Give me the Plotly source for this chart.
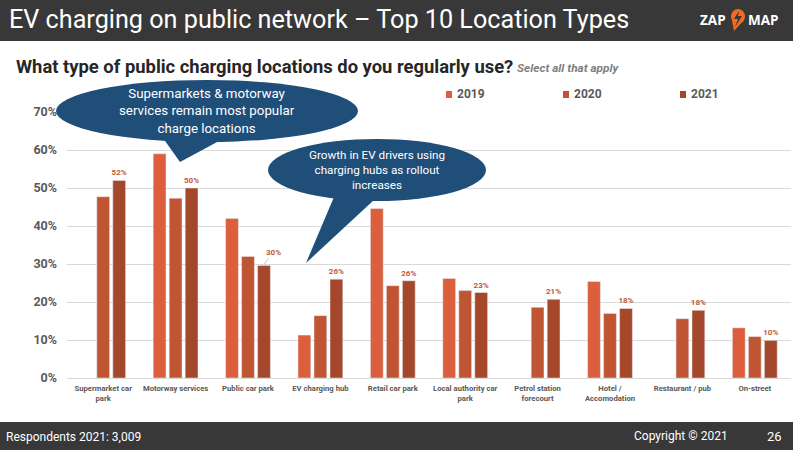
import plotly.graph_objects as go

W, H = 793, 450

categories = ["Supermarket car<br>park", "Motorway services", "Public car park", "EV charging hub",
              "Retail car park", "Local authority car<br>park", "Petrol station<br>forecourt",
              "Hotel /<br>Accomodation", "Restaurant / pub", "On-street"]
years = ["2019", "2020", "2021"]
values_2019 = [None, 59, 42, 11.3, 44.6, 26.2, None, 25.4, None, 13.2]
values_2020 = [47.7, 47.3, 32, 16.4, 24.3, 23, 18.6, 17, 15.6, 10.9]
values_2021 = [52, 50, 29.6, 26, 25.6, 22.5, 20.7, 18.3, 17.8, 9.9]
labels_2021 = ["52%", "50%", "", "26%", "26%", "23%", "21%", "18%", "18%", "10%"]
colors = ["#DB5F3D", "#C05533", "#A5472B"]
y_ticks = [0, 10, 20, 30, 40, 50, 60, 70]
y_tick_labels = ["0%", "10%", "20%", "30%", "40%", "50%", "60%", "70%"]


def px(x):
    return x / W


def py(y):
    return 1 - y / H


def poly(points):
    return "M " + " L ".join(f"{px(a):.4f},{py(b):.4f}" for a, b in points) + " Z"


def rect(x0, y0, x1, y1, color):
    return dict(type="rect", xref="paper", yref="paper", x0=px(x0), x1=px(x1), y0=py(y0), y1=py(y1),
                fillcolor=color, line_width=0, layer="above")


def oval(x0, y0, x1, y1, color):
    return dict(type="circle", xref="paper", yref="paper", x0=px(x0), x1=px(x1), y0=py(y0), y1=py(y1),
                fillcolor=color, line_width=0, layer="above")


def tri(points, color):
    return dict(type="path", xref="paper", yref="paper", path=poly(points), fillcolor=color,
                line_width=0, layer="above")


def text(x, y, s, size, color="#FFFFFF", anchor="left", bold=False, italic=False, family="Roboto"):
    if bold:
        s = f"<b>{s}</b>"
    if italic:
        s = f"<i>{s}</i>"
    return dict(xref="paper", yref="paper", x=px(x), y=py(y), text=s, showarrow=False, xanchor=anchor,
                yanchor="middle", align="center" if anchor == "center" else "left", borderpad=0,
                font=dict(family=family, size=size, color=color))


fig = go.Figure()
series = [values_2019, values_2020, values_2021]
for i in range(3):
    fig.add_trace(go.Bar(
        x=categories, y=series[i], name=years[i], marker_color=colors[i],
        text=labels_2021 if i == 2 else None,
        textposition="outside" if i == 2 else None,
        constraintext="none",
        textfont=dict(family="Roboto", size=8, color="#C0583A", weight="bold"),
        cliponaxis=False,
    ))

navy = "#1F4E79"
dark = "#383838"
orange = "#F26B21"

shapes = [
    rect(0, 0, W, 41, dark),
    rect(0, 422, W, H, dark),
    # callouts
    tri([(163, 138), (180, 162), (219, 141)], navy),
    oval(56, 80, 358, 142, navy),
    tri([(334, 197), (306, 263), (375, 199)], navy),
    oval(268, 139, 486, 201, navy),
    # logo pin
    oval(731, 9, 745, 24, orange),
    tri([(732, 20), (734, 31), (744, 20)], orange),
    tri([(739, 11), (734, 19), (738, 19), (735, 27), (742, 16), (738, 16)], dark),
]
legend_x = [449, 566, 683]
for i in range(3):
    shapes.append(rect(legend_x[i] - 3, 91, legend_x[i] + 3, 98, colors[i]))

annotations = [
    text(8, 20, "EV charging on public network – Top 10 Location Types", 25.2),
    text(15, 66, "What type of public charging locations do you regularly use?", 18.4, "#262626", bold=True),
    text(516, 68, "Select all that apply", 11.8, "#7F7F7F", bold=True, italic=True),
    text(713, 20, "ZAP", 13.5, anchor="center", bold=True, family="Open Sans"),
    text(763, 20, "MAP", 13.5, anchor="center", bold=True, family="Open Sans"),
    text(207, 111, "Supermarkets &amp; motorway<br>services remain most popular<br>charge locations", 13.3, anchor="center"),
    text(377, 170, "Growth in EV drivers using<br>charging hubs as rollout<br>increases", 11.7, anchor="center"),
    text(5, 437, "Respondents 2021: 3,009", 12),
    text(633, 436, "Copyright © 2021", 12),
    text(774, 436, "26", 13, anchor="center"),
    dict(x=categories[2], y=values_2021[2], text="<b>30%</b>", xshift=16, yshift=1, showarrow=True,
         arrowhead=0, arrowwidth=0.7, arrowcolor="#A6A6A6", ax=9, ay=-12, axref="pixel", ayref="pixel",
         font=dict(family="Roboto", size=8, color="#C0583A")),
]
for i in range(3):
    annotations.append(text(legend_x[i] + 7, 94, years[i], 12, "#595959", bold=True))

fig.update_layout(
    width=W, height=H, autosize=False,
    margin=dict(l=0, r=0, t=0, b=0),
    paper_bgcolor="white", plot_bgcolor="white",
    barmode="group", bargap=0.337, bargroupgap=0.2,
    showlegend=False,
    shapes=shapes, annotations=annotations,
    xaxis=dict(domain=[px(67), px(791)], anchor="y", showgrid=False, showline=True, linecolor="#D9D9D9",
               linewidth=1, tickfont=dict(family="Roboto", size=7.7, color="#595959", weight="bold"),
               ticks="", tickangle=0, automargin=False, ticklabelstandoff=3),
    yaxis=dict(domain=[py(378), py(112)], range=[0, 70], tickvals=y_ticks, ticktext=y_tick_labels,
               showgrid=True, gridcolor="#D9D9D9", gridwidth=1, zeroline=False, showline=False,
               tickfont=dict(family="Roboto", size=12.5, color="#595959", weight="bold"),
               ticks="", automargin=False, ticklabelstandoff=9),
)

# page body has a default margin that would shift the picture
fig.write_html("out.html", config={"displayModeBar": False},
               post_script="document.body.style.margin='0';")
